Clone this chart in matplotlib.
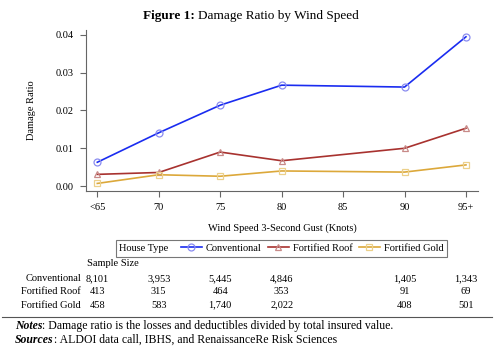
import matplotlib
matplotlib.use("Agg")
import matplotlib.pyplot as plt
from matplotlib.offsetbox import HPacker
import matplotlib.transforms as mtransforms

plt.rcParams['font.family'] = ['Liberation Serif', 'DejaVu Serif']

# data
speeds = [65, 70, 75, 80, 90, 95]
tick_pos = [65, 70, 75, 80, 85, 90, 95]
tick_lab = ['<65', '70', '75', '80', '85', '90', '95+']

conventional = [0.0063, 0.0141, 0.0214, 0.0267, 0.0262, 0.0395]
fort_roof = [0.0031, 0.0036, 0.0090, 0.0067, 0.0100, 0.0153]
fort_gold = [0.0007, 0.0030, 0.0026, 0.0040, 0.0037, 0.0056]

n_conv = ['8,101', '3,953', '5,445', '4,846', '1,405', '1,343']
n_roof = ['413', '315', '464', '353', '91', '69']
n_gold = ['458', '583', '1,740', '2,022', '408', '501']

names = ['Conventional', 'Fortified Roof', 'Fortified Gold']
series = [conventional, fort_roof, fort_gold]
counts = [n_conv, n_roof, n_gold]
colors = ['#1a2cf0', '#a8322f', '#dca83a']
mcolors = ['#8a8cf0', '#c88a88', '#ecd08a']
markers = ['o', '^', 's']

FS = 7.5

fig = plt.figure(figsize=(5, 3.47), dpi=100)
ax = fig.add_axes([0.172, 0.4496, 0.784, 0.464])

lines = []
for y, c, mc, m, nm in zip(series, colors, mcolors, markers, names):
    ln, = ax.plot(speeds, y, color=c, lw=1.2, marker=m, ms=5,
                  mfc='none', mec=mc, mew=0.9, label=nm)
    lines.append(ln)

ax.set_xlim(64.08, 95.98)
ax.set_ylim(-0.0013, 0.0413)
ax.set_xticks(tick_pos)
ax.set_xticklabels(tick_lab)
ax.set_yticks([0, 0.01, 0.02, 0.03, 0.04])
ax.set_yticklabels(['0.00', '0.01', '0.02', '0.03', '0.04'])
for s in ['top', 'right']:
    ax.spines[s].set_visible(False)
for s in ['left', 'bottom']:
    ax.spines[s].set_color('#666666')
    ax.spines[s].set_linewidth(0.8)
ax.tick_params(labelsize=FS, length=4, width=0.8, color='#666666', pad=5)
ax.set_xlabel('Wind Speed 3-Second Gust (Knots)', fontsize=FS, labelpad=8)
ax.set_ylabel('Damage Ratio', fontsize=FS, labelpad=14)

# title
fig.text(0.39, 0.955, 'Figure 1:', fontsize=9.5, fontweight='bold', ha='right', va='center')
fig.text(0.396, 0.955, 'Damage Ratio by Wind Speed', fontsize=9.5, ha='left', va='center')

# legend, title placed on the left of the entries
leg = fig.legend(lines, names, title='House Type', ncol=3, loc='center',
                 bbox_to_anchor=(0.563, 0.284), fontsize=FS, title_fontsize=FS,
                 frameon=True, fancybox=False, edgecolor='#555555',
                 handlelength=2.0, handletextpad=0.4, columnspacing=0.6,
                 borderpad=0.35, borderaxespad=0)
leg.get_frame().set_linewidth(0.8)
fs = leg._fontsize
leg._legend_box = HPacker(pad=leg.borderpad * fs, sep=1.2 * fs, align='center',
                          children=[leg._legend_title_box, leg._legend_handle_box])
leg._legend_box.set_figure(fig)
leg._legend_box.set_offset(leg._findoffset)

# sample size table
fig.text(0.174, 0.242, 'Sample Size', fontsize=FS, ha='left', va='center')
trans = mtransforms.blended_transform_factory(ax.transData, fig.transFigure)
row_y = [0.197, 0.159, 0.121]
for nm, cnt, ry in zip(names, counts, row_y):
    fig.text(0.162, ry, nm, fontsize=FS, ha='right', va='center')
    for xv, t in zip(speeds, cnt):
        fig.text(xv, ry, t, fontsize=FS, ha='center', va='center', transform=trans)

# notes
fig.add_artist(plt.Line2D([0.004, 0.984], [0.0865, 0.0865], color='#555555', lw=0.8))
notes = [('Notes', ': Damage ratio is the losses and deductibles divided by total insured value.', 0.052),
         ('Sources', ': ALDOI data call, IBHS, and RenaissanceRe Risk Sciences', 0.012)]
for head, rest, ny in notes:
    t = fig.text(0.03, ny, head, fontsize=8.5, fontweight='bold', fontstyle='italic',
                 ha='left', va='baseline')
    fig.add_artist(plt.Annotation(rest, xy=(1, 0), xycoords=t, xytext=(0, 0),
                                  textcoords='offset points', fontsize=8.5,
                                  ha='left', va='bottom'))

fig.savefig('out.png', dpi=100)
